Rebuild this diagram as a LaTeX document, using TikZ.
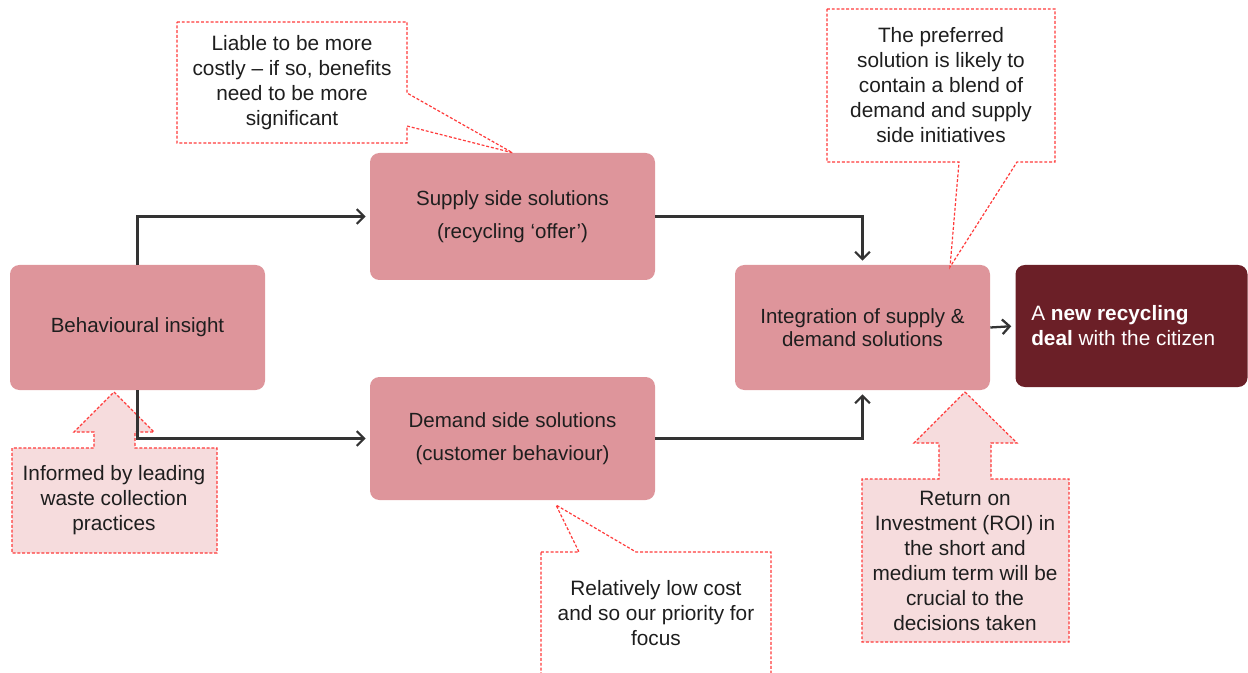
\documentclass[tikz,border=0pt]{standalone}
\usepackage{fontspec}
\setmainfont{Liberation Sans}
\usepackage{tikz}
\usepackage{xcolor}
\usetikzlibrary{arrows.meta,positioning,calc}
\definecolor{stagepink}{HTML}{DE959B}
\definecolor{dealred}{HTML}{6B1F27}
\definecolor{notered}{HTML}{FF3B3B}
\definecolor{notepink}{HTML}{F6DCDD}
\definecolor{ink}{HTML}{1E1E1E}
\definecolor{flowgray}{HTML}{333333}
\tikzset{
  stagebox/.style={
    draw=none, fill=stagepink, rounded corners=7pt,
    align=center, inner sep=0pt, text=ink,
    font=\fontsize{15.4pt}{18.75pt}\selectfont
  },
  dealbox/.style={
    draw=none, fill=dealred, rounded corners=7pt,
    inner sep=0pt
  },
  flowarrow/.style={
    draw=flowgray, line width=1.7pt,
    -{Straight Barb[length=5.5pt,width=11pt,line width=1.7pt]},
    shorten >=3pt
  },
  notebubble/.style={
    draw=notered, fill=white, line width=0.9pt,
    dash pattern=on 2.2pt off 1.4pt
  },
  upnote/.style={
    draw=notered, fill=notepink, line width=0.9pt,
    dash pattern=on 2.2pt off 1.4pt
  },
  notetext/.style={
    align=center, inner sep=0pt, text=ink,
    font=\fontsize{15.6pt}{18.75pt}\selectfont
  }
}

\begin{document}
\begin{tikzpicture}[x=0.75pt,y=-0.75pt]
  \useasboundingbox (0,0) rectangle (1248,673);

  % stages
  \node[stagebox,minimum width=191.25pt,minimum height=93.75pt] (insight) at (137.5,327.5) {Behavioural insight};
  \node[stagebox,minimum width=213.75pt,minimum height=95.25pt] (supply) at (512.5,216.5) {Supply side solutions\\[6pt](recycling `offer')};
  \node[stagebox,minimum width=213.75pt,minimum height=92.25pt] (demand) at (512.5,438.5) {Demand side solutions\\[6pt](customer behaviour)};
  \node[stagebox,minimum width=191.25pt,minimum height=93.75pt] (integ) at (862.5,327.5) {Integration of supply \&\\[-1.5pt]demand solutions};
  \node[dealbox,minimum width=174pt,minimum height=91.5pt] (deal) at (1131.5,326) {};
  \node[notetext,text=white,align=left,anchor=west] (dealtext) at (1031,326)
    {A \textbf{new recycling}\\\textbf{deal} with the citizen};

  % notes
  \path[notebubble] (177,22) -- (407,22) -- (407,93) -- (supply.north) -- (407,126)
    -- (407,143) -- (177,143) -- cycle;
  \node[notetext] (costly) at (292,83) {Liable to be more\\costly -- if so, benefits\\need to be more\\significant};

  \path[upnote] (114,392) -- (154,432) -- (135,432) -- (135,448) -- (217,448) -- (217,553)
    -- (12,553) -- (12,448) -- (94,448) -- (94,432) -- (74,432) -- cycle;
  \node[notetext] (informed) at (114,500) {Informed by leading\\waste collection\\practices};

  \path[notebubble] (541,552) -- (579,552) -- (556,505) -- (636,552) -- (771,552)
    -- (771,690) -- (541,690) -- cycle;
  \node[notetext] (lowcost) at (656,613) {Relatively low cost\\and so our priority for\\focus};

  \path[notebubble] (827,9) -- (1055,9) -- (1055,162) -- (1017,162) -- (950,267)
    -- (959,162) -- (827,162) -- cycle;
  \node[notetext] (blend) at (941,85) {The preferred\\solution is likely to\\contain a blend of\\demand and supply\\side initiatives};

  \path[upnote] (965,392) -- (1017,443) -- (991,443) -- (991,479) -- (1069,479) -- (1069,642)
    -- (862,642) -- (862,479) -- (939,479) -- (939,443) -- (914,443) -- cycle;
  \node[notetext] (roi) at (965,561) {Return on\\Investment (ROI) in\\the short and\\medium term will be\\crucial to the\\decisions taken};

  % flows
  \draw[flowarrow] (insight.north) |- (supply.west);
  \draw[flowarrow] (insight.south) |- (demand.west);
  \draw[flowarrow] (supply.east) -| (integ.north);
  \draw[flowarrow] (demand.east) -| (integ.south);
  \draw[flowarrow] (integ.east) -- (deal.west);
\end{tikzpicture}
\end{document}
